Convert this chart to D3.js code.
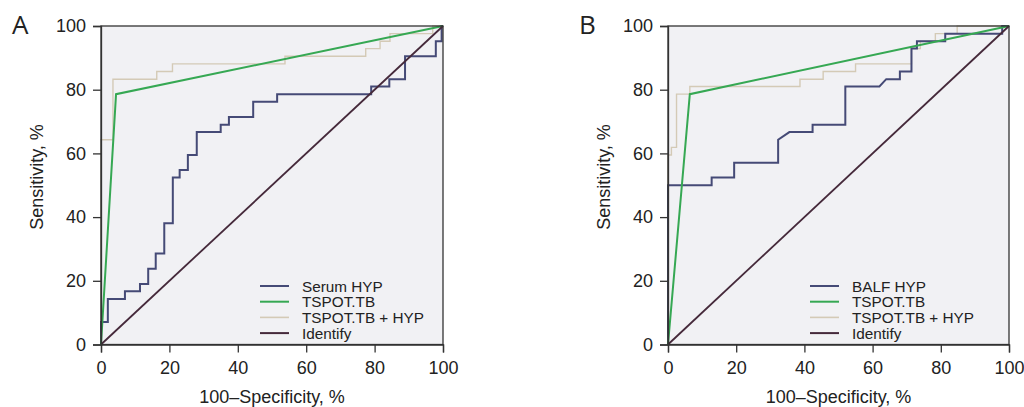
<!DOCTYPE html>
<html><head><meta charset="utf-8">
<script src="https://cdn.jsdelivr.net/npm/d3@7"></script>
<style>
html,body{margin:0;padding:0;background:#fff;}
svg{display:block;font-family:"Liberation Sans",Arial,sans-serif;}
</style></head>
<body><svg id="c" width="1024" height="407"></svg>
<script>
// ---- data (ROC points: x = 100-Specificity %, y = Sensitivity %) ----
const ticks = [0, 20, 40, 60, 80, 100];
const panelLabels = ["A", "B"];
const legendA = ["Serum HYP", "TSPOT.TB", "TSPOT.TB + HYP", "Identify"];
const legendB = ["BALF HYP", "TSPOT.TB", "TSPOT.TB + HYP", "Identify"];

const serumX = [0,0,2,2,7,7,11.4,11.4,13.8,13.8,16,16,18.5,18.5,21,21,23,23,25.4,25.4,28,28,35,35,37.4,37.4,44.5,44.5,51.5,51.5,79,79,84.3,84.3,88.9,88.9,97.9,97.9,99.6,99.6,100];
const serumY = [0,7.1,7.1,14.3,14.3,16.7,16.7,19.0,19.0,23.8,23.8,28.6,28.6,38.1,38.1,52.4,52.4,54.8,54.8,59.5,59.5,66.7,66.7,69.0,69.0,71.4,71.4,76.2,76.2,78.6,78.6,81.0,81.0,83.3,83.3,90.5,90.5,95.2,95.2,100,100];

const tspotAX = [0, 4.4, 100];
const tspotAY = [0, 78.6, 100];

const comboAX = [0,0,3.5,3.5,16.3,16.3,20.9,20.9,53.8,53.8,77.4,77.4,81.6,81.6,84.5,84.5,97,97,100];
const comboAY = [0,64.3,64.3,83.3,83.3,85.7,85.7,88.1,88.1,90.5,90.5,92.9,92.9,95.2,95.2,97.6,97.6,100,100];

const balfX = [0,0,12.8,12.8,19.4,19.4,32.3,32.3,35.6,42.4,42.4,52,52,62,64,68,68,71.4,71.4,73,73,81.3,81.3,98,98,100];
const balfY = [0,50,50,52.4,52.4,57.1,57.1,64.3,66.7,66.7,69.0,69.0,81.0,81.0,83.3,83.3,85.7,85.7,92.9,92.9,95.2,95.2,97.6,97.6,100,100];

const tspotBX = [0, 6.4, 100];
const tspotBY = [0, 78.6, 100];

const comboBX = [0,0,1,1,2.5,2.5,6.4,6.4,38.7,38.7,45.5,45.5,55,55,71.4,71.4,74,74,78.4,78.4,84.8,84.8,100];
const comboBY = [0,59.5,59.5,61.9,61.9,78.6,78.6,81.0,81.0,83.3,83.3,85.7,85.7,88.1,88.1,92.9,92.9,95.2,95.2,97.6,97.6,100,100];

const identX = [0, 100];
const identY = [0, 100];

// ---- styles ----
const colors = {hyp:"#454a76", tspot:"#36a853", combo:"#d4cab6", ident:"#45293a"};
const widths = {hyp:2, tspot:2, combo:1.4, ident:1.8};

const svg = d3.select("#c");
const zip = (xs, ys) => xs.map((x, i) => [x, ys[i]]);

function panel(cfg) {
  const x = d3.scaleLinear().domain([0, 100]).range([cfg.left, cfg.right]);
  const y = d3.scaleLinear().domain([0, 100]).range([cfg.bottom, cfg.top]);
  const g = svg.append("g");
  g.append("rect").attr("x", cfg.left).attr("y", cfg.top)
    .attr("width", cfg.right - cfg.left).attr("height", cfg.bottom - cfg.top)
    .attr("fill", "#f1f1f4");

  const line = d3.line().x(d => x(d[0])).y(d => y(d[1]));
  const series = [
    {key:"combo", pts: zip(cfg.comboX, cfg.comboY)},
    {key:"hyp", pts: zip(cfg.hypX, cfg.hypY)},
    {key:"tspot", pts: zip(cfg.tspotX, cfg.tspotY)},
    {key:"ident", pts: zip(identX, identY)}
  ];
  g.selectAll("path.s").data(series).join("path").attr("class", "s")
    .attr("d", d => line(d.pts)).attr("fill", "none")
    .attr("stroke", d => colors[d.key]).attr("stroke-width", d => widths[d.key])
    .attr("stroke-linejoin", "miter");

  // frame
  g.append("rect").attr("x", cfg.left).attr("y", cfg.top)
    .attr("width", cfg.right - cfg.left).attr("height", cfg.bottom - cfg.top)
    .attr("fill", "none").attr("stroke", "#333").attr("stroke-width", 1.3);

  const xa = g.append("g").attr("transform", `translate(0,${cfg.bottom})`)
    .call(d3.axisBottom(x).tickValues(ticks).tickSize(8).tickPadding(9));
  const ya = g.append("g").attr("transform", `translate(${cfg.left},0)`)
    .call(d3.axisLeft(y).tickValues(ticks).tickSize(8).tickPadding(7));
  [xa, ya].forEach(a => {
    a.select(".domain").attr("stroke", "#333").attr("stroke-width", 1.3);
    a.selectAll(".tick line").attr("stroke", "#333").attr("stroke-width", 1.3);
    a.selectAll(".tick text").attr("fill", "#222").style("font-size", "18px")
      .style("font-family", "'Liberation Sans', Arial, sans-serif");
  });

  g.append("text").attr("x", (cfg.left + cfg.right) / 2).attr("y", 403)
    .attr("text-anchor", "middle").attr("fill", "#222").style("font-size", "18px")
    .text("100\u2013Specificity, %");
  g.append("text")
    .attr("transform", `translate(${cfg.left - 64},177) rotate(-90)`)
    .attr("text-anchor", "middle").attr("dominant-baseline", "central")
    .attr("fill", "#222").style("font-size", "18px").text("Sensitivity, %");

  g.append("text").attr("x", cfg.left - 89).attr("y", 34)
    .attr("fill", "#222").style("font-size", "26px")
    .style("font-family", "'Open Sans', 'Liberation Sans', sans-serif")
    .text(cfg.label);

  // legend
  const keys = ["hyp", "tspot", "combo", "ident"];
  const lg = g.append("g");
  cfg.legend.forEach((t, i) => {
    const yy = 286 + i * 15.7;
    lg.append("line").attr("x1", cfg.legX).attr("x2", cfg.legX + 29)
      .attr("y1", yy).attr("y2", yy)
      .attr("stroke", colors[keys[i]]).attr("stroke-width", keys[i] === "combo" ? 1.6 : 2);
    lg.append("text").attr("x", cfg.legX + 42).attr("y", yy)
      .attr("dominant-baseline", "central").attr("fill", "#222")
      .style("font-size", "15.3px").text(t);
  });
}

panel({left:101, right:443, top:26, bottom:344.5, label:panelLabels[0], legend:legendA, legX:260,
  hypX:serumX, hypY:serumY, tspotX:tspotAX, tspotY:tspotAY, comboX:comboAX, comboY:comboAY});
panel({left:668, right:1009, top:26, bottom:344.5, label:panelLabels[1], legend:legendB, legX:810,
  hypX:balfX, hypY:balfY, tspotX:tspotBX, tspotY:tspotBY, comboX:comboBX, comboY:comboBY});
</script></body></html>
